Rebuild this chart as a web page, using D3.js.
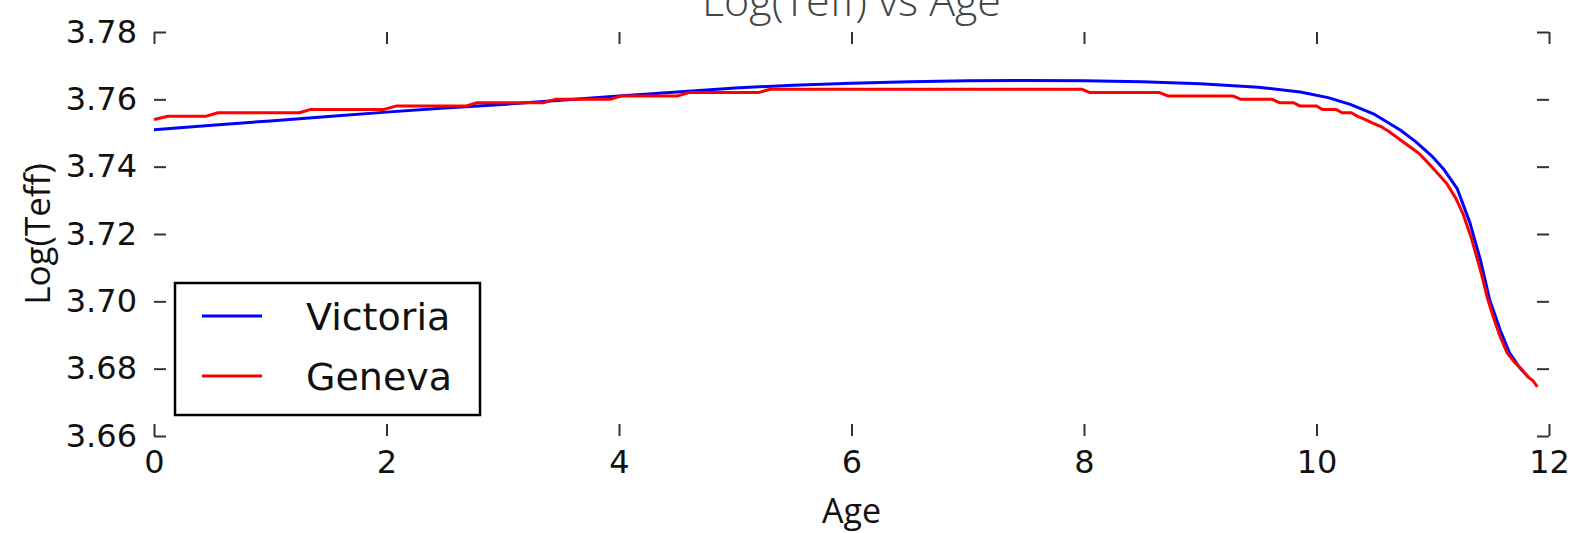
<!DOCTYPE html>
<html>
<head>
<meta charset="utf-8">
<script src="https://cdn.jsdelivr.net/npm/d3@7/dist/d3.min.js"></script>
<style>
  html, body { margin: 0; padding: 0; background: #fff; }
  svg { display: block; }
</style>
</head>
<body>
<svg id="chart" width="1575" height="533"></svg>
<script>
// Stellar track: log effective temperature against age (Gyr)
const victoriaAge  = [0, 0.5, 1, 1.5, 2, 2.5, 3, 3.5, 4, 4.5, 5, 5.5, 6, 6.5, 7, 7.5, 8, 8.5, 9, 9.5, 9.86, 10.1, 10.29, 10.5, 10.72, 10.85, 11.0, 11.1, 11.21, 11.32, 11.41, 11.49, 11.58, 11.66, 11.75, 11.82];
const victoriaTeff = [3.7510, 3.7523, 3.7536, 3.7549, 3.7562, 3.7574, 3.7585, 3.7597, 3.7610, 3.7622, 3.7634, 3.7642, 3.7648, 3.7652, 3.7655, 3.7656, 3.7655, 3.7652, 3.7646, 3.7636, 3.7622, 3.7605, 3.7585, 3.7555, 3.7509, 3.7475, 3.7429, 3.7390, 3.7335, 3.7233, 3.7123, 3.7004, 3.6915, 3.6847, 3.6802, 3.6776];

const genevaAge  = [0.00, 0.12, 0.45, 0.55, 1.25, 1.35, 1.98, 2.08, 2.68, 2.78, 3.35, 3.45, 3.92, 4.02, 4.50, 4.60, 5.20, 5.30, 7.98, 8.05, 8.65, 8.72, 9.28, 9.35, 9.62, 9.68, 9.80, 9.86, 10.00, 10.05, 10.17, 10.22, 10.30, 10.35, 10.42, 10.48, 10.55, 10.62, 10.72, 10.80, 10.88, 10.95, 11.03, 11.12, 11.20, 11.26, 11.33, 11.41, 11.47, 11.52, 11.58, 11.64, 11.70, 11.76, 11.82, 11.86, 11.90];
const genevaTeff = [3.7540, 3.7550, 3.7550, 3.7560, 3.7560, 3.7570, 3.7570, 3.7580, 3.7580, 3.7590, 3.7590, 3.7600, 3.7600, 3.7610, 3.7610, 3.7620, 3.7620, 3.7630, 3.7630, 3.7620, 3.7620, 3.7610, 3.7610, 3.7600, 3.7600, 3.7590, 3.7590, 3.7580, 3.7580, 3.7570, 3.7570, 3.7560, 3.7560, 3.7550, 3.7540, 3.7530, 3.7520, 3.7505, 3.7480, 3.7460, 3.7440, 3.7415, 3.7385, 3.7350, 3.7305, 3.7260, 3.7190, 3.7093, 3.7010, 3.6954, 3.6895, 3.6847, 3.6820, 3.6800, 3.6775, 3.6765, 3.6746];

const xTicks = [0, 2, 4, 6, 8, 10, 12];
const yTicks = [3.66, 3.68, 3.70, 3.72, 3.74, 3.76, 3.78];

const seriesNames  = ["Victoria", "Geneva"];
const seriesColors = ["#0000ff", "#ff0000"];

const titleText = "Log(Teff) vs Age";
const xLabelText = "Age";
const yLabelText = "Log(Teff)";

const svg = d3.select("#chart");
const plot = { left: 154, right: 1549, top: 32, bottom: 436 };

const x = d3.scaleLinear().domain([0, 12]).range([plot.left, plot.right]);
const y = d3.scaleLinear().domain([3.66, 3.78]).range([plot.bottom, plot.top]);

const tickLen = 12;
const tickColor = "#333";
const tickFont = "'DejaVu Sans', sans-serif";

// Axes with inward ticks on all four sides, no spines
function styleAxis(g) {
  g.select(".domain").remove();
  g.selectAll(".tick line").attr("stroke", tickColor).attr("stroke-width", 2);
  g.selectAll(".tick text").attr("fill", "#111").style("font-family", tickFont).style("font-size", "32px");
}

svg.append("g")
  .attr("transform", `translate(0,${plot.bottom})`)
  .call(d3.axisBottom(x).tickValues(xTicks).tickFormat(d3.format("d")).tickSizeInner(-tickLen).tickSizeOuter(0).tickPadding(14))
  .call(styleAxis)
  .call(g => g.selectAll(".tick text").attr("dy", "0.71em"));

svg.append("g")
  .attr("transform", `translate(0,${plot.top})`)
  .call(d3.axisTop(x).tickValues(xTicks).tickFormat("").tickSizeInner(-tickLen).tickSizeOuter(0))
  .call(styleAxis);

svg.append("g")
  .attr("transform", `translate(${plot.left},0)`)
  .call(d3.axisLeft(y).tickValues(yTicks).tickFormat(d3.format(".2f")).tickSizeInner(-tickLen).tickSizeOuter(0).tickPadding(17))
  .call(styleAxis);

svg.append("g")
  .attr("transform", `translate(${plot.right},0)`)
  .call(d3.axisRight(y).tickValues(yTicks).tickFormat("").tickSizeInner(-tickLen).tickSizeOuter(0))
  .call(styleAxis);

// Curves
const line = d3.line().x(d => x(d[0])).y(d => y(d[1]));
const victoria = victoriaAge.map((a, i) => [a, victoriaTeff[i]]);
const geneva = genevaAge.map((a, i) => [a, genevaTeff[i]]);

[victoria, geneva].forEach((pts, i) => {
  svg.append("path")
    .datum(pts)
    .attr("fill", "none")
    .attr("stroke", seriesColors[i])
    .attr("stroke-width", 3)
    .attr("stroke-linejoin", "round")
    .attr("d", line);
});

// Title and axis labels
const labelFont = "'Open Sans', sans-serif";
svg.append("text")
  .attr("x", (plot.left + plot.right) / 2)
  .attr("y", 16)
  .attr("text-anchor", "middle")
  .attr("fill", "#444")
  .style("font-family", labelFont)
  .style("font-weight", 300)
  .style("font-size", "43px")
  .text(titleText);

svg.append("text")
  .attr("x", (plot.left + plot.right) / 2)
  .attr("y", 523)
  .attr("text-anchor", "middle")
  .attr("fill", "#111")
  .style("font-family", labelFont)
  .style("font-size", "34px")
  .text(xLabelText);

svg.append("text")
  .attr("transform", `translate(50,${(plot.top + plot.bottom) / 2}) rotate(-90)`)
  .attr("text-anchor", "middle")
  .attr("fill", "#111")
  .style("font-family", labelFont)
  .style("font-size", "35px")
  .text(yLabelText);

// Legend
const legend = svg.append("g");
legend.append("rect")
  .attr("x", 175).attr("y", 283)
  .attr("width", 305).attr("height", 132)
  .attr("fill", "#fff")
  .attr("stroke", "#000")
  .attr("stroke-width", 2.5);

seriesNames.forEach((name, i) => {
  const cy = 316 + i * 60;
  legend.append("line")
    .attr("x1", 202).attr("x2", 262)
    .attr("y1", cy).attr("y2", cy)
    .attr("stroke", seriesColors[i])
    .attr("stroke-width", 3);
  legend.append("text")
    .attr("x", 306).attr("y", cy)
    .attr("dy", "0.36em")
    .attr("fill", "#111")
    .style("font-family", tickFont)
    .style("font-size", "38px")
    .text(name);
});
</script>
</body>
</html>
